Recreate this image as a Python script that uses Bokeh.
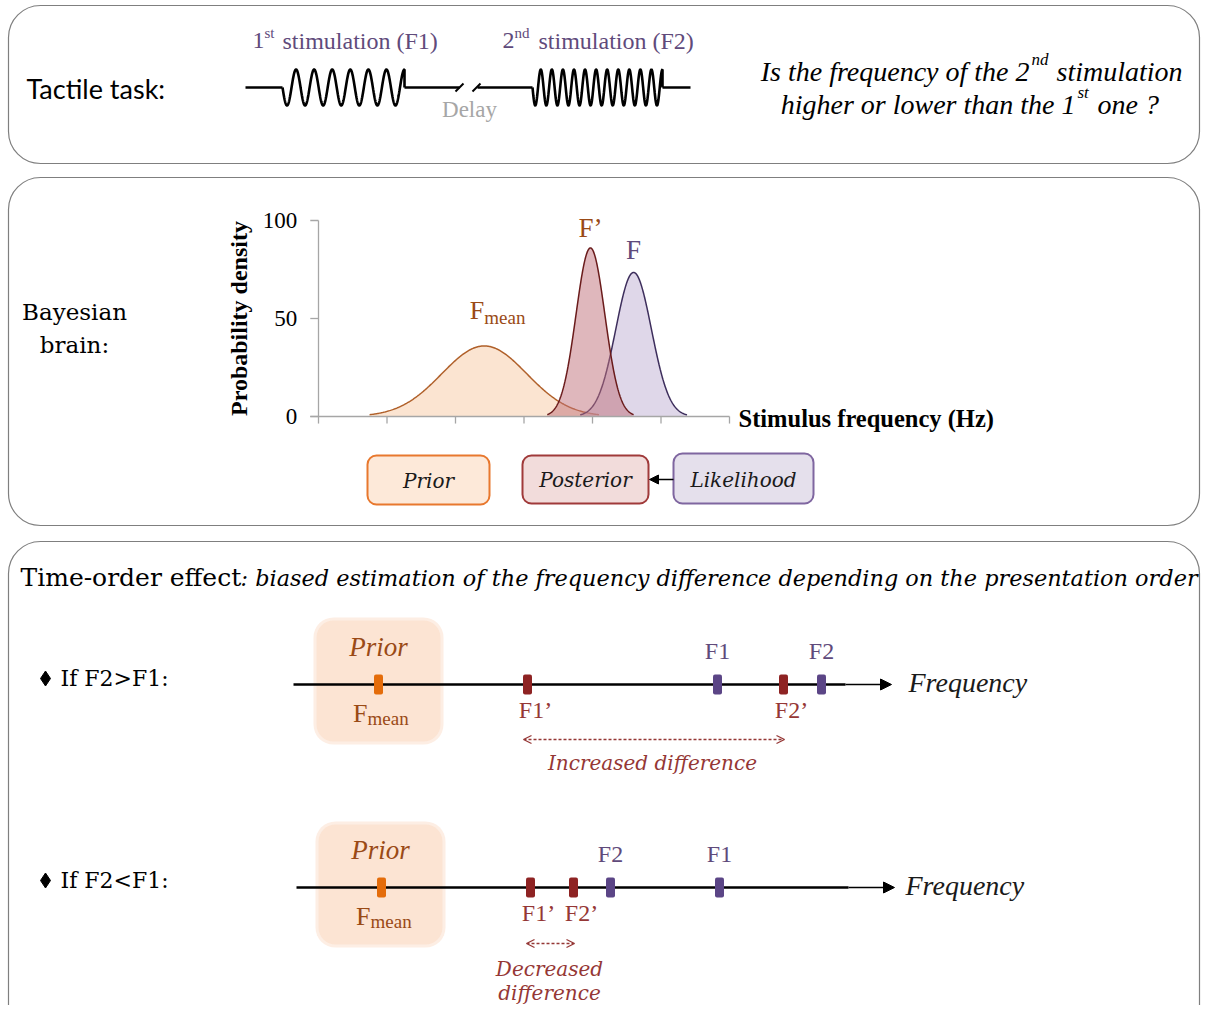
import numpy as np
from bokeh.plotting import figure
from bokeh.models import Range1d, Arrow, NormalHead, OpenHead
from bokeh.core.properties import value
from bokeh.embed import file_html
from bokeh.resources import INLINE

# ---------------- data ----------------
stim_numbers = ["1", "2"]
stim_suffix = ["st", "nd"]
stim_names = ["stimulation (F1)", "stimulation (F2)"]
stim_peaks = [7, 12]                       # oscillation peaks drawn per stimulation

curve_names = ["Prior", "Likelihood", "Posterior"]
curve_mean_hz = [24.2, 46.0, 39.7]
curve_sd_hz = [6.2, 2.6, 2.1]
curve_peak = [36.0, 73.5, 86.0]
curve_span_sd = [2.7, 3.0, 3.0]
curve_labels = ["F", "F", "F’"]
density_ticks = [0, 50, 100]
freq_ticks = [0, 10, 20, 30, 40, 50, 60]

case_titles = ["If F2>F1:", "If F2<F1:"]
case_fmean = [378, 381]
case_f1 = [717, 719]
case_f2 = [821, 610]
case_f1p = [527, 530]
case_f2p = [783, 573]
case_diff_text = [["Increased difference"], ["Decreased", "difference"]]

# ---------------- colours / fonts ----------------
PURPLE_TXT = "#604a7b"
BROWN = "#9a4a16"
RED_TXT = "#953735"
RED_MK = "#8e2323"
ORANGE = "#e46c0a"
PURPLE_MK = "#5b4586"
GRID = "#a6a6a6"
SERIF = "Liberation Serif"
CAMBRIA = "DejaVu Serif"
SANS = "Lato"

W, H = 1202, 1005
p = figure(width=W, height=H, x_range=Range1d(0, W), y_range=Range1d(H, 0),
           output_backend="svg", toolbar_location=None, min_border=0,
           x_axis_location=None, y_axis_location=None)
p.grid.visible = False
p.outline_line_color = None


def txt(x, y, s, size, color="black", font=SERIF, style="normal", align="left",
        baseline="middle", angle=0.0, **kw):
    p.text(x=[x], y=[y], text=[s], text_font=value(font), text_font_size=f"{size}px",
           text_color=color, text_font_style=style, text_align=align,
           text_baseline=baseline, angle=angle, **kw)


def anchored_range(v0, s0, v1, s1, lo, hi):
    k = (s1 - s0) / (v1 - v0)
    return Range1d(v0 + (lo - s0) / k, v0 + (hi - s0) / k)


# ---------------- panels ----------------
panel_top = [5, 177, 541]
panel_bottom = [163, 525, 1060]
p.quad(left=[8] * 3, right=[1199] * 3, top=panel_top, bottom=panel_bottom,
       fill_color=None, line_color="#7f7f7f", line_width=1.2, border_radius=32)

# ---------------- panel 1: tactile task ----------------
txt(26, 88, "Tactile task:", 27, font=SANS)

stim_x = [252, 502]
sup_dx = [12, 12]
rest_dx = [30, 36]
for sx, num, suf, name, sdx, rdx in zip(stim_x, stim_numbers, stim_suffix, stim_names, sup_dx, rest_dx):
    txt(sx, 40, num, 24, PURPLE_TXT, baseline="alphabetic")
    txt(sx + sdx, 32, suf, 15, PURPLE_TXT, baseline="alphabetic")
    txt(sx + rdx, 40, name, 24, PURPLE_TXT, baseline="alphabetic")

base_y = 87
amp = 18
wave_x0 = [282, 532]
wave_x1 = [404, 662]
for x0, x1, npk in zip(wave_x0, wave_x1, stim_peaks):
    t = np.linspace(0, 1, 600)
    cycles = npk - 0.25
    xs = x0 + (x1 - x0) * t
    ys = base_y + amp * np.sin(2 * np.pi * cycles * t)
    xs = np.concatenate([xs, [x1]])
    ys = np.concatenate([ys, [base_y]])
    p.line(xs, ys, line_color="black", line_width=2.6)
# flat parts of the stimulation line and the break
p.segment(x0=[245, 404, 477, 662], x1=[282, 459, 532, 690], y0=[base_y] * 4, y1=[base_y] * 4,
          line_color="black", line_width=2.6)
p.segment(x0=[455, 472], x1=[463, 480], y0=[91, 91], y1=[83, 83], line_color="black", line_width=2)
txt(469, 109, "Delay", 23, "#a6a6a6", align="center")

# question
txt(1029, 71, "Is the frequency of the 2", 28, style="italic", align="right", baseline="alphabetic")
txt(1031, 59, "nd", 17, style="italic", baseline="alphabetic")
txt(1056, 71, "stimulation", 28, style="italic", baseline="alphabetic")
txt(1075, 104, "higher or lower than the 1", 28, style="italic", align="right", baseline="alphabetic")
txt(1077, 92, "st", 17, style="italic", baseline="alphabetic")
txt(1097, 104, "one ?", 28, style="italic", baseline="alphabetic")

# ---------------- panel 2: Bayesian brain ----------------
txt(74, 311, "Bayesian", 23, font=CAMBRIA, align="center")
txt(74, 344, "brain:", 23, font=CAMBRIA, align="center")

p.extra_x_ranges = {"hz": anchored_range(0, 318, 60, 729, 0, W)}
p.extra_y_ranges = {"dens": anchored_range(0, 416, 100, 220, H, 0)}

fills = ["#f8c9a4", "#c0b0d4", "#c0707a"]
fill_alpha = [0.5, 0.5, 0.5]
lines = ["#b0602a", "#3d2e5c", "#6a1b1b"]
for mu, sd, pk, span, fc, fa, lc in zip(curve_mean_hz, curve_sd_hz, curve_peak, curve_span_sd,
                                         fills, fill_alpha, lines):
    xs = np.linspace(mu - span * sd, mu + span * sd, 300)
    ys = pk * np.exp(-0.5 * ((xs - mu) / sd) ** 2)
    p.varea(x=xs, y1=np.zeros_like(xs), y2=ys, fill_color=fc, fill_alpha=fa,
            x_range_name="hz", y_range_name="dens")
    p.line(xs, ys, line_color=lc, line_width=1.5, x_range_name="hz", y_range_name="dens")

# axes drawn by hand (inner-panel axes)
p.segment(x0=[0], x1=[0], y0=[0], y1=[max(density_ticks)], line_color=GRID, line_width=1.3,
          x_range_name="hz", y_range_name="dens")
p.segment(x0=[-1.2], x1=[max(freq_ticks)], y0=[0], y1=[0], line_color=GRID, line_width=1.3,
          x_range_name="hz", y_range_name="dens")
p.segment(x0=[-1.2] * len(density_ticks), x1=[0] * len(density_ticks), y0=density_ticks,
          y1=density_ticks, line_color=GRID, line_width=1.3, x_range_name="hz", y_range_name="dens")
p.segment(x0=freq_ticks, x1=freq_ticks, y0=[0] * len(freq_ticks), y1=[-3.6] * len(freq_ticks),
          line_color=GRID, line_width=1.3, x_range_name="hz", y_range_name="dens")
p.text(x=[-3.1] * len(density_ticks), y=density_ticks, text=[str(t) for t in density_ticks],
       text_font=value(SERIF), text_font_size="23px", text_align="right", text_baseline="middle",
       x_range_name="hz", y_range_name="dens")
txt(238, 318, "Probability density", 24, font=SERIF, style="bold", align="center", angle=np.pi / 2)
txt(738, 418, "Stimulus frequency (Hz)", 24.5, font=SERIF, style="bold")

# curve labels
label_colors = [BROWN, PURPLE_TXT, BROWN]
label_dy = [18, 11.5, 10]
for name, mu, pk, lab, col, dy in zip(curve_names, curve_mean_hz, curve_peak, curve_labels,
                                      label_colors, label_dy):
    if name == "Prior":
        p.text(x=[mu], y=[pk + dy], text=[lab], text_font=value(SERIF), text_font_size="26px",
               text_color=col, text_align="right", text_baseline="alphabetic",
               x_range_name="hz", y_range_name="dens")
        p.text(x=[mu], y=[pk + dy - 3.5], text=["mean"], text_font=value(SERIF),
               text_font_size="19px", text_color=col, text_align="left",
               text_baseline="alphabetic", x_range_name="hz", y_range_name="dens")
    else:
        p.text(x=[mu], y=[pk + dy], text=[lab], text_font=value(SERIF), text_font_size="27px",
               text_color=col, text_align="center", text_baseline="alphabetic",
               x_range_name="hz", y_range_name="dens")

# legend boxes
box_names = ["Prior", "Posterior", "Likelihood"]
box_left = [367, 522, 673]
box_right = [489, 648, 813]
box_top = [455, 455, 453]
box_bottom = [504, 503, 503]
box_fill = ["#fde9d9", "#f2dcdb", "#e5e0ec"]
box_line = ["#e8782e", "#a03a3a", "#7f66a0"]
p.quad(left=box_left, right=box_right, top=box_top, bottom=box_bottom, fill_color=box_fill,
       line_color=box_line, line_width=2, border_radius=9)
p.text(x=[(a + b) / 2 for a, b in zip(box_left, box_right)], y=[480, 479, 479], text=box_names,
       text_font=value(CAMBRIA), text_font_size="20px", text_font_style="italic",
       text_align="center", text_baseline="middle", text_color="#1a1a1a")
p.add_layout(Arrow(end=NormalHead(size=9, fill_color="black", line_color="black"), start=None,
                   x_start=box_left[2], y_start=479, x_end=box_right[1] + 1, y_end=479,
                   line_width=1.5, line_color="black"))

# ---------------- panel 3: time-order effect ----------------
txt(20, 577, "Time-order effect", 25, font=CAMBRIA)
txt(240, 577, ": biased estimation of the frequency difference depending on the presentation order",
    22.4, font=CAMBRIA, style="italic")

row_y = [684, 887]
title_y = [678, 880]
line_x0 = [293, 296]
line_x1 = [845, 848]
arrow_x1 = [891, 894]
freq_x = [908, 905]
prior_l = [316, 318]
prior_r = [440, 442]
prior_t = [620, 824]
prior_b = [741, 944]
diff_y = [739, 943]
diff_text_y = [[762], [968, 992]]
diff_text_x = [652, 549]

for i in range(2):
    y = row_y[i]
    # bullet + case title
    p.scatter(x=[45], y=[title_y[i]], marker="diamond", size=15, color="black")
    txt(60, title_y[i], case_titles[i], 22, font=CAMBRIA)
    # prior region
    p.quad(left=[prior_l[i] - 3], right=[prior_r[i] + 3], top=[prior_t[i] - 3],
           bottom=[prior_b[i] + 3], fill_color="#fdeee4", line_color=None, border_radius=20)
    p.quad(left=[prior_l[i]], right=[prior_r[i]], top=[prior_t[i]], bottom=[prior_b[i]],
           fill_color="#fce4d3", line_color=None, border_radius=17)
    pc = (prior_l[i] + prior_r[i]) / 2
    txt(pc, y - 38, "Prior", 27, BROWN, style="italic", align="center")
    # axis line + arrow
    p.segment(x0=[line_x0[i]], x1=[line_x1[i]], y0=[y], y1=[y], line_color="black", line_width=2.6)
    p.add_layout(Arrow(end=NormalHead(size=11, fill_color="black", line_color="black"), start=None,
                       x_start=line_x1[i], y_start=y, x_end=arrow_x1[i], y_end=y,
                       line_width=1.6, line_color="black"))
    txt(freq_x[i], y - 2, "Frequency", 28, "#1a1a1a", style="italic")
    # markers
    mk_x = [case_fmean[i], case_f1p[i], case_f2p[i], case_f1[i], case_f2[i]]
    mk_c = [ORANGE, RED_MK, RED_MK, PURPLE_MK, PURPLE_MK]
    p.quad(left=[m - 4.5 for m in mk_x], right=[m + 4.5 for m in mk_x],
           top=[y - 10] * 5, bottom=[y + 10] * 5, fill_color=mk_c, line_color=None,
           border_radius=2)
    # labels
    p.text(x=[case_fmean[i] - 11], y=[y + 29], text=["F"], text_font=value(SERIF),
           text_font_size="26px", text_color=BROWN, text_align="right", text_baseline="alphabetic")
    p.text(x=[case_fmean[i] - 11], y=[y + 34], text=["mean"], text_font=value(SERIF),
           text_font_size="19px", text_color=BROWN, text_align="left", text_baseline="alphabetic")
    p.text(x=[case_f1[i], case_f2[i]], y=[y - 34] * 2, text=["F1", "F2"], text_font=value(SERIF),
           text_font_size="24px", text_color=PURPLE_TXT, text_align="center", text_baseline="middle")
    p.text(x=[case_f1p[i] + 8, case_f2p[i] + 8], y=[y + 25] * 2, text=["F1’", "F2’"],
           text_font=value(SERIF), text_font_size="24px", text_color=RED_TXT,
           text_align="center", text_baseline="middle")
    # dashed double arrow between the perceived frequencies
    p.add_layout(Arrow(start=OpenHead(size=8, line_color=RED_TXT, line_width=1.3),
                       end=OpenHead(size=8, line_color=RED_TXT, line_width=1.3),
                       x_start=case_f1p[i] - 4, y_start=diff_y[i], x_end=case_f2p[i] + 1,
                       y_end=diff_y[i], line_color=RED_TXT, line_width=1.3, line_dash="3 2"))
    for s, ty in zip(case_diff_text[i], diff_text_y[i]):
        txt(diff_text_x[i], ty, s, 20, RED_TXT, font=CAMBRIA, style="italic", align="center")

open("out.html", "w").write(file_html(p, INLINE))
